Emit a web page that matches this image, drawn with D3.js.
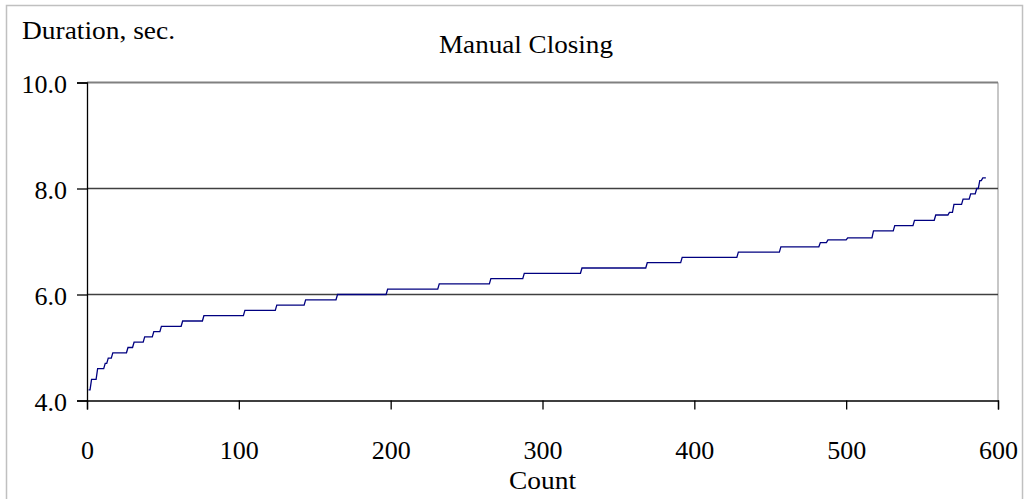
<!DOCTYPE html>
<html>
<head>
<meta charset="utf-8">
<script src="https://cdn.jsdelivr.net/npm/d3@7"></script>
<style>
  html, body { margin: 0; padding: 0; background: #fff; }
  svg { display: block; }
  text { font-family: "Liberation Serif", "Times New Roman", serif; fill: #000; }
</style>
</head>
<body>
<svg id="chart" width="1026" height="499"></svg>
<script>
// ---- Data ----
const chartTitle = "Manual Closing";
const yAxisTitle = "Duration, sec.";
const xAxisTitle = "Count";
const xTickValues = [0, 100, 200, 300, 400, 500, 600];
const yTickValues = [4.0, 6.0, 8.0, 10.0];
// Sorted durations: the count at which each duration level begins, and the level
const stepStartCount = [1, 3, 7, 12, 14, 17, 27, 31, 38, 44, 49, 63, 77, 104, 125, 144, 165, 198, 232, 266,
  288, 326, 369, 392, 429, 457, 483, 488, 501, 518, 532, 545, 559, 568, 571, 577, 582, 586, 588, 590];
const stepDuration = [4.2, 4.4, 4.6, 4.7, 4.8, 4.9, 5.0, 5.1, 5.2, 5.3, 5.4, 5.5, 5.6, 5.7, 5.8, 5.9, 6.0, 6.1, 6.2, 6.3,
  6.4, 6.5, 6.6, 6.7, 6.8, 6.9, 6.98, 7.03, 7.07, 7.2, 7.3, 7.4, 7.5, 7.55, 7.7, 7.8, 7.9, 8.0, 8.15, 8.2];
const lastCount = 592;

// ---- Drawing ----
const svg = d3.select("#chart");
const plot = { left: 87, right: 998, top: 82.5, bottom: 400.5 };

const x = d3.scaleLinear().domain([0, 600]).range([plot.left, plot.right]);
const y = d3.scaleLinear().domain([4, 10]).range([plot.bottom, plot.top]);

// outer chart border
svg.append("rect").attr("x", 6.5).attr("y", 5.5).attr("width", 1016).attr("height", 500)
  .attr("fill", "none").attr("stroke", "#c0c0c0").attr("stroke-width", 1.5);

// plot area right border
svg.append("line").attr("x1", plot.right).attr("x2", plot.right)
  .attr("y1", plot.top).attr("y2", plot.bottom)
  .attr("stroke", "#b4b4b4").attr("stroke-width", 1.5);

// gridlines
svg.append("g").selectAll("line").data(yTickValues.filter(d => d > 4)).join("line")
  .attr("x1", plot.left).attr("x2", plot.right)
  .attr("y1", d => y(d)).attr("y2", d => y(d))
  .attr("stroke", d => d === 10 ? "#808080" : "#404040")
  .attr("stroke-width", d => d === 10 ? 2 : 1.4);

// axes
const yAxis = d3.axisLeft(y).tickValues(yTickValues).tickFormat(d3.format(".1f"))
  .tickSize(10).tickPadding(10);
const gy = svg.append("g").attr("transform", `translate(${plot.left},0)`).call(yAxis);
gy.select(".domain").attr("stroke", "#000").attr("stroke-width", 1.3);
gy.selectAll(".tick line").attr("stroke", "#000").attr("stroke-width", 1.3);
gy.selectAll(".tick text").attr("font-size", 26).attr("font-family", "Liberation Serif")
  .attr("dy", "0.4em").attr("x", -20);

const xAxis = d3.axisBottom(x).tickValues(xTickValues).tickFormat(d3.format("d"))
  .tickSize(9).tickPadding(10);
const gx = svg.append("g").attr("transform", `translate(0,${plot.bottom})`).call(xAxis);
gx.select(".domain").attr("stroke", "#000").attr("stroke-width", 1.3);
gx.selectAll(".tick line").attr("stroke", "#000").attr("stroke-width", 1.3);
gx.selectAll(".tick text").attr("font-size", 26).attr("font-family", "Liberation Serif")
  .attr("dy", null).attr("y", 58);

// data line (sorted durations, step shaped)
const pts = [];
stepStartCount.forEach((c, i) => {
  const end = i < stepStartCount.length - 1 ? stepStartCount[i + 1] - 1 : lastCount;
  pts.push([c, stepDuration[i]]);
  if (end > c) pts.push([end, stepDuration[i]]);
});
svg.append("path").datum(pts)
  .attr("fill", "none").attr("stroke", "#000080").attr("stroke-width", 1.3)
  .attr("d", d3.line().x(d => x(d[0])).y(d => y(d[1])));

// titles
svg.append("text").attr("x", 526).attr("y", 53).attr("text-anchor", "middle")
  .attr("font-size", 25).attr("textLength", 174).attr("lengthAdjust", "spacingAndGlyphs")
  .text(chartTitle);
svg.append("text").attr("x", 22).attr("y", 39).attr("font-size", 25)
  .attr("textLength", 153).attr("lengthAdjust", "spacingAndGlyphs").text(yAxisTitle);
svg.append("text").attr("x", x(300)).attr("y", 489).attr("text-anchor", "middle")
  .attr("font-size", 25).attr("textLength", 67).attr("lengthAdjust", "spacingAndGlyphs")
  .text(xAxisTitle);
</script>
</body>
</html>
